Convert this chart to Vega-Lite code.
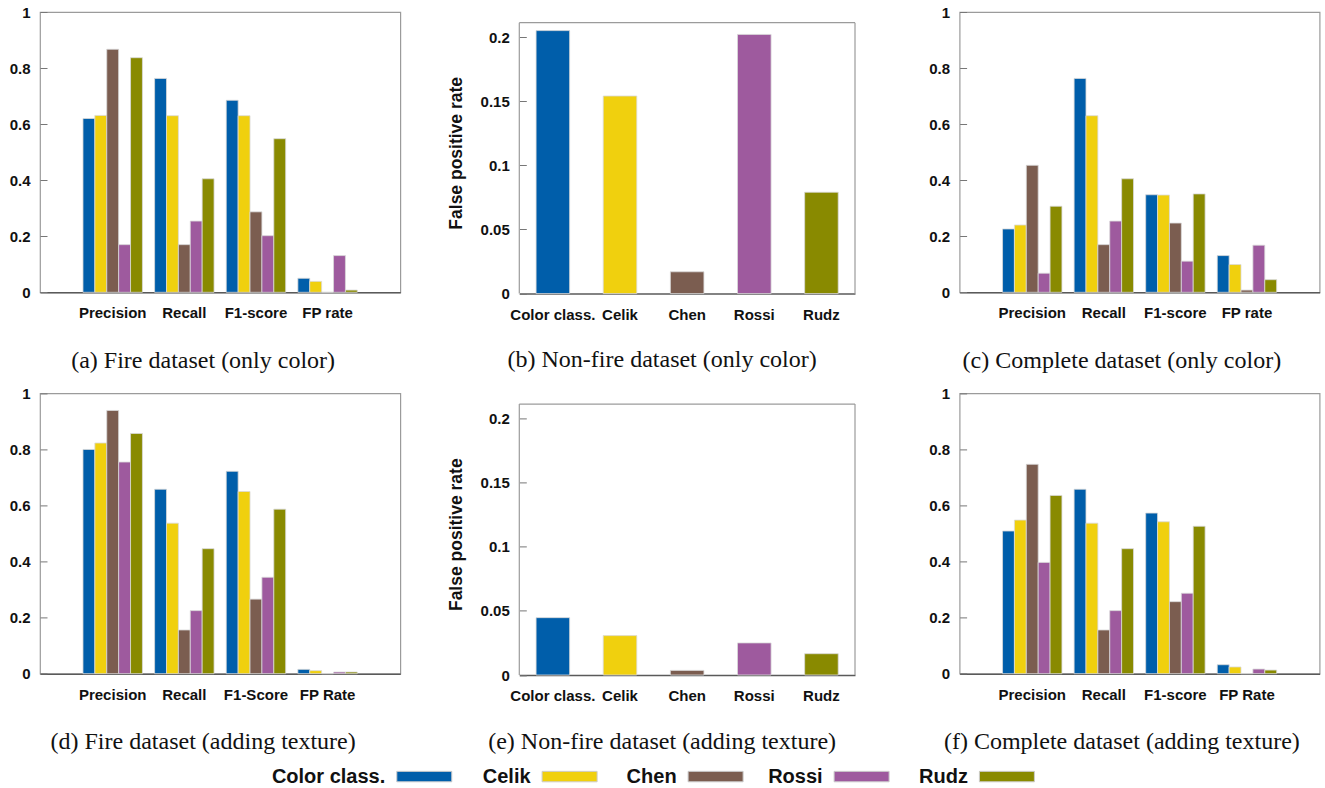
{
  "$schema": "https://vega.github.io/schema/vega-lite/v6.json",
  "padding": {"left": 8, "top": 4, "right": 0, "bottom": 0},
  "autosize": {"type": "pad"},
  "config": {
    "view": {"stroke": "#9b9b9b", "strokeWidth": 1.2},
    "axis": {"labelFont": "Liberation Sans", "labelFontWeight": "bold", "labelFontSize": 15, "labelColor": "#111", "titleFont": "Liberation Sans", "titleFontWeight": "bold", "titleFontSize": 17.5, "titleColor": "#111", "grid": false},
    "title": {"font": "Liberation Serif", "fontSize": 24, "fontWeight": "normal", "color": "#111"}
  },
  "data": {"values": [
    {"panel": "a", "metric": "Precision", "method": "Color class.", "value": 0.62},
    {"panel": "a", "metric": "Precision", "method": "Celik", "value": 0.631},
    {"panel": "a", "metric": "Precision", "method": "Chen", "value": 0.867},
    {"panel": "a", "metric": "Precision", "method": "Rossi", "value": 0.170},
    {"panel": "a", "metric": "Precision", "method": "Rudz", "value": 0.837},
    {"panel": "a", "metric": "Recall", "method": "Color class.", "value": 0.763},
    {"panel": "a", "metric": "Recall", "method": "Celik", "value": 0.630},
    {"panel": "a", "metric": "Recall", "method": "Chen", "value": 0.170},
    {"panel": "a", "metric": "Recall", "method": "Rossi", "value": 0.254},
    {"panel": "a", "metric": "Recall", "method": "Rudz", "value": 0.405},
    {"panel": "a", "metric": "F1-score", "method": "Color class.", "value": 0.685},
    {"panel": "a", "metric": "F1-score", "method": "Celik", "value": 0.630},
    {"panel": "a", "metric": "F1-score", "method": "Chen", "value": 0.287},
    {"panel": "a", "metric": "F1-score", "method": "Rossi", "value": 0.202},
    {"panel": "a", "metric": "F1-score", "method": "Rudz", "value": 0.548},
    {"panel": "a", "metric": "FP rate", "method": "Color class.", "value": 0.050},
    {"panel": "a", "metric": "FP rate", "method": "Celik", "value": 0.039},
    {"panel": "a", "metric": "FP rate", "method": "Chen", "value": 0.0},
    {"panel": "a", "metric": "FP rate", "method": "Rossi", "value": 0.131},
    {"panel": "a", "metric": "FP rate", "method": "Rudz", "value": 0.008},
    {"panel": "b", "metric": "FPR", "method": "Color class.", "value": 0.205},
    {"panel": "b", "metric": "FPR", "method": "Celik", "value": 0.154},
    {"panel": "b", "metric": "FPR", "method": "Chen", "value": 0.017},
    {"panel": "b", "metric": "FPR", "method": "Rossi", "value": 0.202},
    {"panel": "b", "metric": "FPR", "method": "Rudz", "value": 0.079},
    {"panel": "c", "metric": "Precision", "method": "Color class.", "value": 0.226},
    {"panel": "c", "metric": "Precision", "method": "Celik", "value": 0.240},
    {"panel": "c", "metric": "Precision", "method": "Chen", "value": 0.453},
    {"panel": "c", "metric": "Precision", "method": "Rossi", "value": 0.068},
    {"panel": "c", "metric": "Precision", "method": "Rudz", "value": 0.307},
    {"panel": "c", "metric": "Recall", "method": "Color class.", "value": 0.763},
    {"panel": "c", "metric": "Recall", "method": "Celik", "value": 0.630},
    {"panel": "c", "metric": "Recall", "method": "Chen", "value": 0.170},
    {"panel": "c", "metric": "Recall", "method": "Rossi", "value": 0.254},
    {"panel": "c", "metric": "Recall", "method": "Rudz", "value": 0.405},
    {"panel": "c", "metric": "F1-score", "method": "Color class.", "value": 0.348},
    {"panel": "c", "metric": "F1-score", "method": "Celik", "value": 0.347},
    {"panel": "c", "metric": "F1-score", "method": "Chen", "value": 0.247},
    {"panel": "c", "metric": "F1-score", "method": "Rossi", "value": 0.111},
    {"panel": "c", "metric": "F1-score", "method": "Rudz", "value": 0.351},
    {"panel": "c", "metric": "FP rate", "method": "Color class.", "value": 0.131},
    {"panel": "c", "metric": "FP rate", "method": "Celik", "value": 0.099},
    {"panel": "c", "metric": "FP rate", "method": "Chen", "value": 0.008},
    {"panel": "c", "metric": "FP rate", "method": "Rossi", "value": 0.168},
    {"panel": "c", "metric": "FP rate", "method": "Rudz", "value": 0.045},
    {"panel": "d", "metric": "Precision", "method": "Color class.", "value": 0.800},
    {"panel": "d", "metric": "Precision", "method": "Celik", "value": 0.823},
    {"panel": "d", "metric": "Precision", "method": "Chen", "value": 0.939},
    {"panel": "d", "metric": "Precision", "method": "Rossi", "value": 0.755},
    {"panel": "d", "metric": "Precision", "method": "Rudz", "value": 0.857},
    {"panel": "d", "metric": "Recall", "method": "Color class.", "value": 0.658},
    {"panel": "d", "metric": "Recall", "method": "Celik", "value": 0.537},
    {"panel": "d", "metric": "Recall", "method": "Chen", "value": 0.156},
    {"panel": "d", "metric": "Recall", "method": "Rossi", "value": 0.225},
    {"panel": "d", "metric": "Recall", "method": "Rudz", "value": 0.446},
    {"panel": "d", "metric": "F1-Score", "method": "Color class.", "value": 0.722},
    {"panel": "d", "metric": "F1-Score", "method": "Celik", "value": 0.650},
    {"panel": "d", "metric": "F1-Score", "method": "Chen", "value": 0.266},
    {"panel": "d", "metric": "F1-Score", "method": "Rossi", "value": 0.344},
    {"panel": "d", "metric": "F1-Score", "method": "Rudz", "value": 0.587},
    {"panel": "d", "metric": "FP Rate", "method": "Color class.", "value": 0.0155},
    {"panel": "d", "metric": "FP Rate", "method": "Celik", "value": 0.011},
    {"panel": "d", "metric": "FP Rate", "method": "Chen", "value": 0.0},
    {"panel": "d", "metric": "FP Rate", "method": "Rossi", "value": 0.006},
    {"panel": "d", "metric": "FP Rate", "method": "Rudz", "value": 0.006},
    {"panel": "e", "metric": "FPR", "method": "Color class.", "value": 0.0447},
    {"panel": "e", "metric": "FPR", "method": "Celik", "value": 0.0307},
    {"panel": "e", "metric": "FPR", "method": "Chen", "value": 0.0036},
    {"panel": "e", "metric": "FPR", "method": "Rossi", "value": 0.025},
    {"panel": "e", "metric": "FPR", "method": "Rudz", "value": 0.0166},
    {"panel": "f", "metric": "Precision", "method": "Color class.", "value": 0.509},
    {"panel": "f", "metric": "Precision", "method": "Celik", "value": 0.548},
    {"panel": "f", "metric": "Precision", "method": "Chen", "value": 0.747},
    {"panel": "f", "metric": "Precision", "method": "Rossi", "value": 0.397},
    {"panel": "f", "metric": "Precision", "method": "Rudz", "value": 0.636},
    {"panel": "f", "metric": "Recall", "method": "Color class.", "value": 0.658},
    {"panel": "f", "metric": "Recall", "method": "Celik", "value": 0.537},
    {"panel": "f", "metric": "Recall", "method": "Chen", "value": 0.156},
    {"panel": "f", "metric": "Recall", "method": "Rossi", "value": 0.225},
    {"panel": "f", "metric": "Recall", "method": "Rudz", "value": 0.446},
    {"panel": "f", "metric": "F1-score", "method": "Color class.", "value": 0.573},
    {"panel": "f", "metric": "F1-score", "method": "Celik", "value": 0.542},
    {"panel": "f", "metric": "F1-score", "method": "Chen", "value": 0.257},
    {"panel": "f", "metric": "F1-score", "method": "Rossi", "value": 0.287},
    {"panel": "f", "metric": "F1-score", "method": "Rudz", "value": 0.526},
    {"panel": "f", "metric": "FP Rate", "method": "Color class.", "value": 0.032},
    {"panel": "f", "metric": "FP Rate", "method": "Celik", "value": 0.024},
    {"panel": "f", "metric": "FP Rate", "method": "Chen", "value": 0.0},
    {"panel": "f", "metric": "FP Rate", "method": "Rossi", "value": 0.0166},
    {"panel": "f", "metric": "FP Rate", "method": "Rudz", "value": 0.013}
  ]},
  "bounds": "flush",
  "columns": 3,
  "spacing": {"row": 99.4, "column": 104.3},
  "resolve": {"scale": {"xOffset": "independent"}},
  "concat": [
    {
      "width": 360.3, "height": 280.3,
      "transform": [{"filter": "datum.panel === 'a'"}],
      "mark": {"type": "bar", "stroke": "#d9d9d9", "strokeWidth": 0.8},
      "encoding": {
        "x": {"field": "metric", "type": "nominal", "sort": ["Precision", "Recall", "F1-score", "FP rate"], "scale": {"paddingInner": 0.17, "paddingOuter": 0.6}, "axis": {"title": null, "labelAngle": 0, "ticks": false, "domainColor": "#5a5a5a", "domainWidth": 1.5, "labelPadding": 13.5, "labelOverlap": false, "labelBound": false}},
        "xOffset": {"field": "method", "type": "nominal", "sort": ["Color class.", "Celik", "Chen", "Rossi", "Rudz"], "scale": {"paddingInner": 0, "paddingOuter": 0}},
        "y": {"field": "value", "type": "quantitative", "scale": {"domain": [0, 1], "nice": false}, "axis": {"title": null, "values": [0, 0.2, 0.4, 0.6, 0.8, 1], "format": "~g", "domain": false, "tickSize": -7, "tickColor": "#777", "labelPadding": 17}},
        "color": {"field": "method", "type": "nominal", "scale": {"domain": ["Color class.", "Celik", "Chen", "Rossi", "Rudz"], "range": ["#005EAA", "#F0D00E", "#7B5D50", "#9E5A9E", "#898A00"]}, "legend": null}
      },
      "title": {"text": "(a) Fire dataset (only color)", "orient": "bottom", "frame": "group", "anchor": "middle", "dx": -17, "offset": 47, "baseline": "alphabetic"}
    },
    {
      "width": 335.7, "height": 281.6,
      "view": {"stroke": null},
      "layer": [
        {
          "transform": [{"filter": "datum.panel === 'b'"}],
          "mark": {"type": "bar", "stroke": "#d9d9d9", "strokeWidth": 0.8},
          "encoding": {
            "x": {"field": "method", "type": "nominal", "sort": ["Color class.", "Celik", "Chen", "Rossi", "Rudz"], "scale": {"paddingInner": 0.5, "paddingOuter": 0.25}, "axis": {"title": null, "labelAngle": 0, "ticks": false, "domainColor": "#5a5a5a", "domainWidth": 1.5, "labelPadding": 13.5, "labelOverlap": false, "labelBound": false}},
            "y": {"field": "value", "type": "quantitative", "scale": {"domain": [0, 0.2195], "nice": false}, "axis": {"title": "False positive rate", "titlePadding": 15, "values": [0, 0.05, 0.1, 0.15, 0.2], "format": "~g", "domain": false, "tickSize": -7, "tickColor": "#777", "labelPadding": 17}},
            "color": {"field": "method", "type": "nominal", "scale": {"domain": ["Color class.", "Celik", "Chen", "Rossi", "Rudz"], "range": ["#005EAA", "#F0D00E", "#7B5D50", "#9E5A9E", "#898A00"]}, "legend": null}
          }
        },
        {"data": {"values": [{"edge": "top"}]}, "mark": {"type": "rule", "color": "#9b9b9b", "strokeWidth": 1.2}, "encoding": {"y": {"datum": 0.2112, "type": "quantitative"}}},
        {"data": {"values": [{"edge": "left"}]}, "mark": {"type": "rule", "color": "#9b9b9b", "strokeWidth": 1.2}, "encoding": {"x": {"value": 0}, "y": {"datum": 0, "type": "quantitative"}, "y2": {"datum": 0.2112}}},
        {"data": {"values": [{"edge": "right"}]}, "mark": {"type": "rule", "color": "#9b9b9b", "strokeWidth": 1.2}, "encoding": {"x": {"value": "width"}, "y": {"datum": 0, "type": "quantitative"}, "y2": {"datum": 0.2112}}}
      ],
      "title": {"text": "(b) Non-fire dataset (only color)", "orient": "bottom", "frame": "group", "anchor": "middle", "dx": -25, "offset": 45, "baseline": "alphabetic"}
    },
    {
      "width": 360, "height": 280.3,
      "transform": [{"filter": "datum.panel === 'c'"}],
      "mark": {"type": "bar", "stroke": "#d9d9d9", "strokeWidth": 0.8},
      "encoding": {
        "x": {"field": "metric", "type": "nominal", "sort": ["Precision", "Recall", "F1-score", "FP rate"], "scale": {"paddingInner": 0.17, "paddingOuter": 0.6}, "axis": {"title": null, "labelAngle": 0, "ticks": false, "domainColor": "#5a5a5a", "domainWidth": 1.5, "labelPadding": 13.5, "labelOverlap": false, "labelBound": false}},
        "xOffset": {"field": "method", "type": "nominal", "sort": ["Color class.", "Celik", "Chen", "Rossi", "Rudz"], "scale": {"paddingInner": 0, "paddingOuter": 0}},
        "y": {"field": "value", "type": "quantitative", "scale": {"domain": [0, 1], "nice": false}, "axis": {"title": null, "values": [0, 0.2, 0.4, 0.6, 0.8, 1], "format": "~g", "domain": false, "tickSize": -7, "tickColor": "#777", "labelPadding": 17}},
        "color": {"field": "method", "type": "nominal", "scale": {"domain": ["Color class.", "Celik", "Chen", "Rossi", "Rudz"], "range": ["#005EAA", "#F0D00E", "#7B5D50", "#9E5A9E", "#898A00"]}, "legend": null}
      },
      "title": {"text": "(c) Complete dataset (only color)", "orient": "bottom", "frame": "group", "anchor": "middle", "dx": -17.7, "offset": 47, "baseline": "alphabetic"}
    },
    {
      "width": 360.3, "height": 280.3,
      "transform": [{"filter": "datum.panel === 'd'"}],
      "mark": {"type": "bar", "stroke": "#d9d9d9", "strokeWidth": 0.8},
      "encoding": {
        "x": {"field": "metric", "type": "nominal", "sort": ["Precision", "Recall", "F1-Score", "FP Rate"], "scale": {"paddingInner": 0.17, "paddingOuter": 0.6}, "axis": {"title": null, "labelAngle": 0, "ticks": false, "domainColor": "#5a5a5a", "domainWidth": 1.5, "labelPadding": 13.5, "labelOverlap": false, "labelBound": false}},
        "xOffset": {"field": "method", "type": "nominal", "sort": ["Color class.", "Celik", "Chen", "Rossi", "Rudz"], "scale": {"paddingInner": 0, "paddingOuter": 0}},
        "y": {"field": "value", "type": "quantitative", "scale": {"domain": [0, 1], "nice": false}, "axis": {"title": null, "values": [0, 0.2, 0.4, 0.6, 0.8, 1], "format": "~g", "domain": false, "tickSize": -7, "tickColor": "#777", "labelPadding": 17}},
        "color": {"field": "method", "type": "nominal", "scale": {"domain": ["Color class.", "Celik", "Chen", "Rossi", "Rudz"], "range": ["#005EAA", "#F0D00E", "#7B5D50", "#9E5A9E", "#898A00"]}, "legend": null}
      },
      "title": {"text": "(d) Fire dataset (adding texture)", "orient": "bottom", "frame": "group", "anchor": "middle", "dx": -17, "offset": 47, "baseline": "alphabetic"}
    },
    {
      "width": 335.7, "height": 281.6,
      "view": {"stroke": null},
      "layer": [
        {
          "transform": [{"filter": "datum.panel === 'e'"}],
          "mark": {"type": "bar", "stroke": "#d9d9d9", "strokeWidth": 0.8},
          "encoding": {
            "x": {"field": "method", "type": "nominal", "sort": ["Color class.", "Celik", "Chen", "Rossi", "Rudz"], "scale": {"paddingInner": 0.5, "paddingOuter": 0.25}, "axis": {"title": null, "labelAngle": 0, "ticks": false, "domainColor": "#5a5a5a", "domainWidth": 1.5, "labelPadding": 13.5, "labelOverlap": false, "labelBound": false}},
            "y": {"field": "value", "type": "quantitative", "scale": {"domain": [0, 0.2195], "nice": false}, "axis": {"title": "False positive rate", "titlePadding": 15, "values": [0, 0.05, 0.1, 0.15, 0.2], "format": "~g", "domain": false, "tickSize": -7, "tickColor": "#777", "labelPadding": 17}},
            "color": {"field": "method", "type": "nominal", "scale": {"domain": ["Color class.", "Celik", "Chen", "Rossi", "Rudz"], "range": ["#005EAA", "#F0D00E", "#7B5D50", "#9E5A9E", "#898A00"]}, "legend": null}
          }
        },
        {"data": {"values": [{"edge": "top"}]}, "mark": {"type": "rule", "color": "#9b9b9b", "strokeWidth": 1.2}, "encoding": {"y": {"datum": 0.2112, "type": "quantitative"}}},
        {"data": {"values": [{"edge": "left"}]}, "mark": {"type": "rule", "color": "#9b9b9b", "strokeWidth": 1.2}, "encoding": {"x": {"value": 0}, "y": {"datum": 0, "type": "quantitative"}, "y2": {"datum": 0.2112}}},
        {"data": {"values": [{"edge": "right"}]}, "mark": {"type": "rule", "color": "#9b9b9b", "strokeWidth": 1.2}, "encoding": {"x": {"value": "width"}, "y": {"datum": 0, "type": "quantitative"}, "y2": {"datum": 0.2112}}}
      ],
      "title": {"text": "(e) Non-fire dataset (adding texture)", "orient": "bottom", "frame": "group", "anchor": "middle", "dx": -25, "offset": 45, "baseline": "alphabetic"}
    },
    {
      "width": 360, "height": 280.3,
      "transform": [{"filter": "datum.panel === 'f'"}],
      "mark": {"type": "bar", "stroke": "#d9d9d9", "strokeWidth": 0.8},
      "encoding": {
        "x": {"field": "metric", "type": "nominal", "sort": ["Precision", "Recall", "F1-score", "FP Rate"], "scale": {"paddingInner": 0.17, "paddingOuter": 0.6}, "axis": {"title": null, "labelAngle": 0, "ticks": false, "domainColor": "#5a5a5a", "domainWidth": 1.5, "labelPadding": 13.5, "labelOverlap": false, "labelBound": false}},
        "xOffset": {"field": "method", "type": "nominal", "sort": ["Color class.", "Celik", "Chen", "Rossi", "Rudz"], "scale": {"paddingInner": 0, "paddingOuter": 0}},
        "y": {"field": "value", "type": "quantitative", "scale": {"domain": [0, 1], "nice": false}, "axis": {"title": null, "values": [0, 0.2, 0.4, 0.6, 0.8, 1], "format": "~g", "domain": false, "tickSize": -7, "tickColor": "#777", "labelPadding": 17}},
        "color": {"field": "method", "type": "nominal", "scale": {"domain": ["Color class.", "Celik", "Chen", "Rossi", "Rudz"], "range": ["#005EAA", "#F0D00E", "#7B5D50", "#9E5A9E", "#898A00"]}, "legend": null}
      },
      "title": {"text": "(f) Complete dataset (adding texture)", "orient": "bottom", "frame": "group", "anchor": "middle", "dx": -17.7, "offset": 47, "baseline": "alphabetic"}
    },
    {
      "width": 374.7, "height": 3.6,
      "view": {"stroke": null},
      "data": {"values": [{"method": "Color class."}]},
      "encoding": {"x": {"field": "method", "type": "nominal", "scale": {"type": "point", "padding": 0, "align": 0.9375}, "axis": null}},
      "layer": [
        {"mark": {"type": "text", "align": "right", "baseline": "middle", "dx": -6, "font": "Liberation Sans", "fontWeight": "bold", "fontSize": 20, "color": "#111"}, "encoding": {"text": {"field": "method", "type": "nominal"}}},
        {"mark": {"type": "point", "shape": "M0.2,-0.19H2.2V0.19H0.2Z", "size": 3025, "filled": true, "opacity": 1, "stroke": "#cccccc", "strokeWidth": 1}, "encoding": {"color": {"field": "method", "type": "nominal", "scale": {"domain": ["Color class.", "Celik", "Chen", "Rossi", "Rudz"], "range": ["#005EAA", "#F0D00E", "#7B5D50", "#9E5A9E", "#898A00"]}, "legend": null}}}
      ]
    },
    {
      "width": 326.6, "height": 3.6,
      "view": {"stroke": null},
      "data": {"values": [{"method": "Celik"}, {"method": "Chen"}, {"method": "Rossi"}]},
      "encoding": {"x": {"field": "method", "type": "nominal", "sort": ["Celik", "Chen", "Rossi"], "scale": {"type": "point", "padding": 0.1185}, "axis": null}},
      "layer": [
        {"mark": {"type": "text", "align": "right", "baseline": "middle", "dx": -6, "font": "Liberation Sans", "fontWeight": "bold", "fontSize": 20, "color": "#111"}, "encoding": {"text": {"field": "method", "type": "nominal"}}},
        {"mark": {"type": "point", "shape": "M0.2,-0.19H2.2V0.19H0.2Z", "size": 3025, "filled": true, "opacity": 1, "stroke": "#cccccc", "strokeWidth": 1}, "encoding": {"color": {"field": "method", "type": "nominal", "scale": {"domain": ["Color class.", "Celik", "Chen", "Rossi", "Rudz"], "range": ["#005EAA", "#F0D00E", "#7B5D50", "#9E5A9E", "#898A00"]}, "legend": null}}}
      ]
    },
    {
      "width": 28.6, "height": 3.6,
      "view": {"stroke": null},
      "data": {"values": [{"method": "Rudz"}]},
      "encoding": {"x": {"field": "method", "type": "nominal", "scale": {"type": "point", "padding": 0}, "axis": null}},
      "layer": [
        {"mark": {"type": "text", "align": "right", "baseline": "middle", "dx": -6, "font": "Liberation Sans", "fontWeight": "bold", "fontSize": 20, "color": "#111"}, "encoding": {"text": {"field": "method", "type": "nominal"}}},
        {"mark": {"type": "point", "shape": "M0.2,-0.19H2.2V0.19H0.2Z", "size": 3025, "filled": true, "opacity": 1, "stroke": "#cccccc", "strokeWidth": 1}, "encoding": {"color": {"field": "method", "type": "nominal", "scale": {"domain": ["Color class.", "Celik", "Chen", "Rossi", "Rudz"], "range": ["#005EAA", "#F0D00E", "#7B5D50", "#9E5A9E", "#898A00"]}, "legend": null}}}
      ]
    }
  ]
}
